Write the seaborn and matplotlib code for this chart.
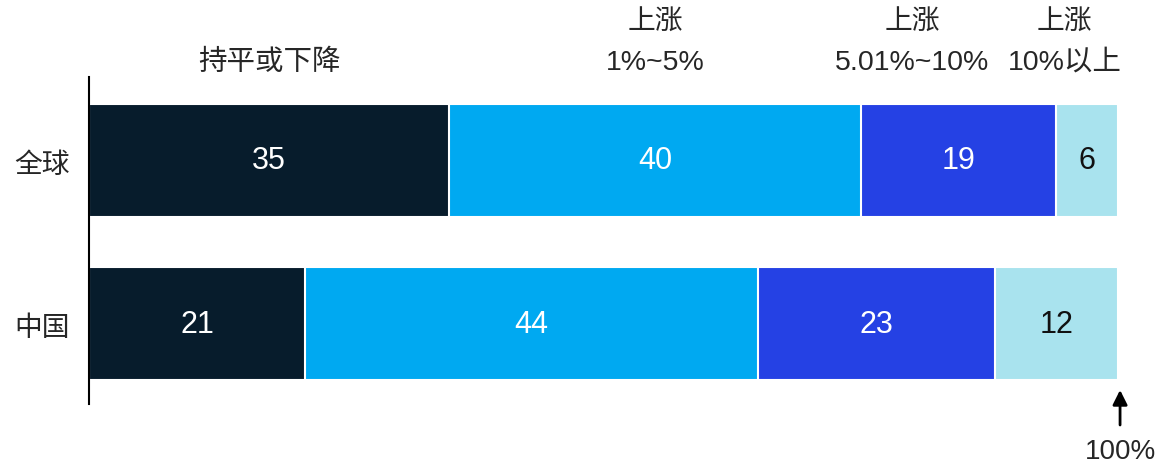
import matplotlib
matplotlib.use("Agg")
import numpy as np
import pandas as pd
import matplotlib.pyplot as plt
import seaborn as sns
from matplotlib.transforms import blended_transform_factory

# data
regions = ["全球", "中国"]
header_top = ["", "上涨", "上涨", "上涨"]
header_bottom = ["持平或下降", "1%~5%", "5.01%~10%", "10%以上"]
global_vals = [35, 40, 19, 6]
china_vals = [21, 44, 23, 12]

colors = ["#071C2C", "#00A9F1", "#2541E4", "#A9E3EE"]
text_colors = ["white", "white", "white", "#111111"]
# header x positions (data units), last two nudged left so they don't overlap
header_x = [17.5, 55, 80, 94.8]

FONTS = ["Liberation Sans", "Noto Sans CJK SC", "DejaVu Sans"]

sns.set_style("white")
plt.rcParams["font.family"] = FONTS

vals = np.array([global_vals, china_vals])
cum = vals.cumsum(axis=1)

fig = plt.figure(figsize=(11.67, 4.64), dpi=100)
ax = fig.add_axes([89 / 1167, 0.127, 1029 / 1167, 0.705])

# stacked bars: draw cumulative totals from the last segment backwards
for i in range(vals.shape[1] - 1, -1, -1):
    df = pd.DataFrame({"region": regions, "value": cum[:, i]})
    sns.barplot(data=df, x="value", y="region", orient="h", color=colors[i],
                saturation=1, width=0.693, edgecolor="white", linewidth=1.5,
                ax=ax)

# value labels in the middle of each segment
for r in range(vals.shape[0]):
    for i in range(vals.shape[1]):
        mid = cum[r, i] - vals[r, i] / 2
        ax.text(mid, r, str(vals[r, i]), ha="center", va="center",
                fontsize=22, color=text_colors[i])

ax.set_xlim(0, 100)
ax.set_ylim(1.494, -0.512)
ax.set_xlabel("")
ax.set_ylabel("")
ax.set_xticks([])
ax.tick_params(axis="y", length=0, pad=14, labelsize=20)
for lab in ax.get_yticklabels():
    lab.set_fontfamily(["Noto Sans CJK SC", "DejaVu Sans"])
for side in ["top", "right", "bottom"]:
    ax.spines[side].set_visible(False)
ax.spines["left"].set_color("black")
ax.spines["left"].set_linewidth(1.5)

# headers above the bars
trans = blended_transform_factory(ax.transData, fig.transFigure)
for x, top, bottom in zip(header_x, header_top, header_bottom):
    if top:
        ax.text(x, 1 - 23 / 464, top, transform=trans, ha="center",
                va="center", fontsize=20, clip_on=False)
    ax.text(x, 1 - 63 / 464, bottom, transform=trans, ha="center",
            va="center", fontsize=20.5, clip_on=False)

# 100% marker
ax.annotate("", xy=(100.2, 1 - 391 / 464), xytext=(100.2, 1 - 426 / 464),
            xycoords=trans, textcoords=trans,
            arrowprops=dict(arrowstyle="-|>", color="black", lw=2,
                            mutation_scale=22, shrinkA=0, shrinkB=0))
ax.text(100.2, 1 - 452 / 464, "100%", transform=trans, ha="center",
        va="center", fontsize=20, clip_on=False)

fig.savefig("out.png", dpi=100)
